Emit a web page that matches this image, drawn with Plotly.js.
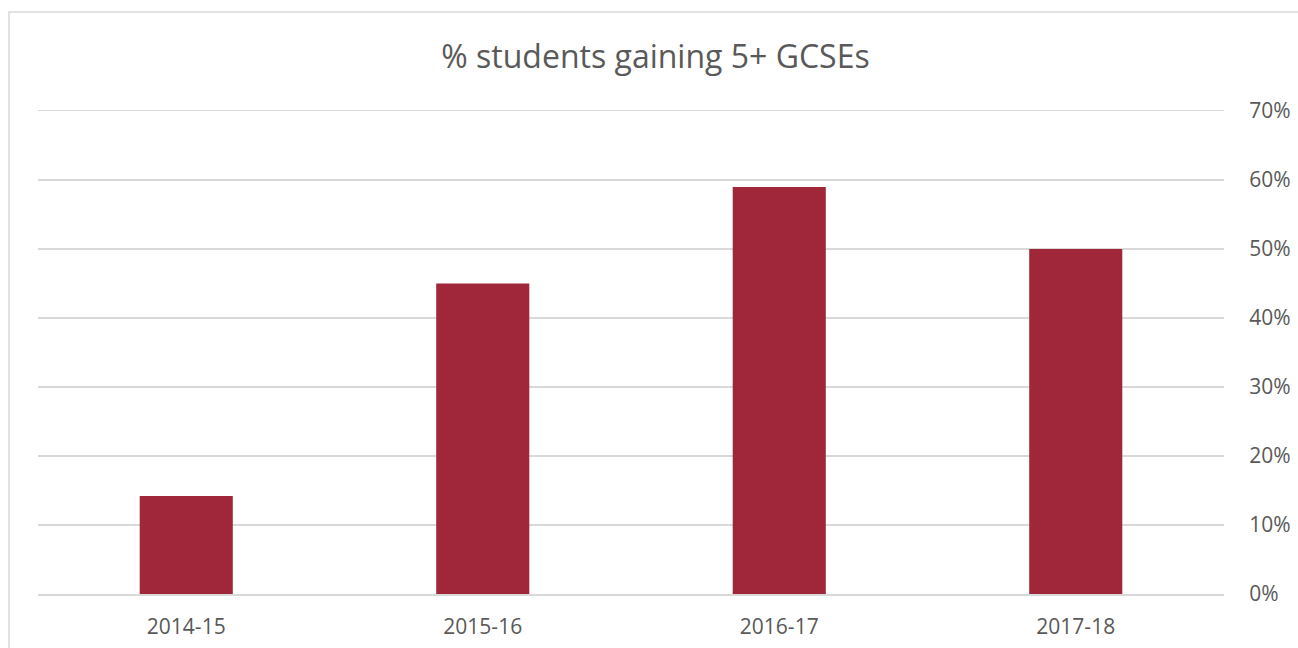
<!DOCTYPE html>
<html>
<head>
<meta charset="utf-8">
<script src="https://cdn.plot.ly/plotly-3.0.1.min.js"></script>
<style>html,body{margin:0;padding:0;background:#fff;}#chart{width:1298px;height:648px;}</style>
</head>
<body>
<div id="chart"></div>
<script>
const categories = ["2014-15", "2015-16", "2016-17", "2017-18"];
const values = [0.142, 0.45, 0.59, 0.50];
const yTickVals = [0, 0.1, 0.2, 0.3, 0.4, 0.5, 0.6, 0.7];

const trace = {
  type: 'bar',
  x: categories,
  y: values,
  marker: {color: '#A0273A'},
  hoverinfo: 'x+y'
};

const layout = {
  width: 1298, height: 648,
  margin: {l: 38, r: 74, t: 111, b: 54},
  paper_bgcolor: '#fff', plot_bgcolor: '#fff',
  bargap: 0.686,
  showlegend: false,
  title: {
    text: '% students gaining 5+ GCSEs',
    font: {family: 'Open Sans, sans-serif', size: 32, color: '#595959'},
    x: 0.505, xanchor: 'center', y: 0.912, yanchor: 'middle'
  },
  xaxis: {
    type: 'category',
    showgrid: false, zeroline: false,
    showline: true, mirror: true, linecolor: '#d9d9d9', linewidth: 1.5,
    ticks: 'outside', ticklen: 13, tickcolor: 'rgba(0,0,0,0)',
    tickfont: {family: 'Open Sans, sans-serif', size: 21, color: '#595959'}
  },
  yaxis: {
    side: 'right',
    range: [0, 0.7],
    tickvals: yTickVals,
    tickformat: '.0%',
    showgrid: true, gridcolor: '#d9d9d9', gridwidth: 1.5,
    zeroline: false, showline: false,
    ticks: 'outside', ticklen: 20, tickcolor: 'rgba(0,0,0,0)',
    tickfont: {family: 'Open Sans, sans-serif', size: 21, color: '#595959'}
  },
  shapes: [{
    type: 'rect', xref: 'paper', yref: 'paper',
    x0: (9 - 38) / 1186, x1: (1310 - 38) / 1186,
    y0: (594 - 660) / 483, y1: (594 - 12) / 483,
    line: {color: '#d9d9d9', width: 1.5},
    fillcolor: 'rgba(0,0,0,0)', layer: 'below'
  }]
};

Plotly.newPlot('chart', [trace], layout, {displayModeBar: false, staticPlot: true});
</script>
</body>
</html>
